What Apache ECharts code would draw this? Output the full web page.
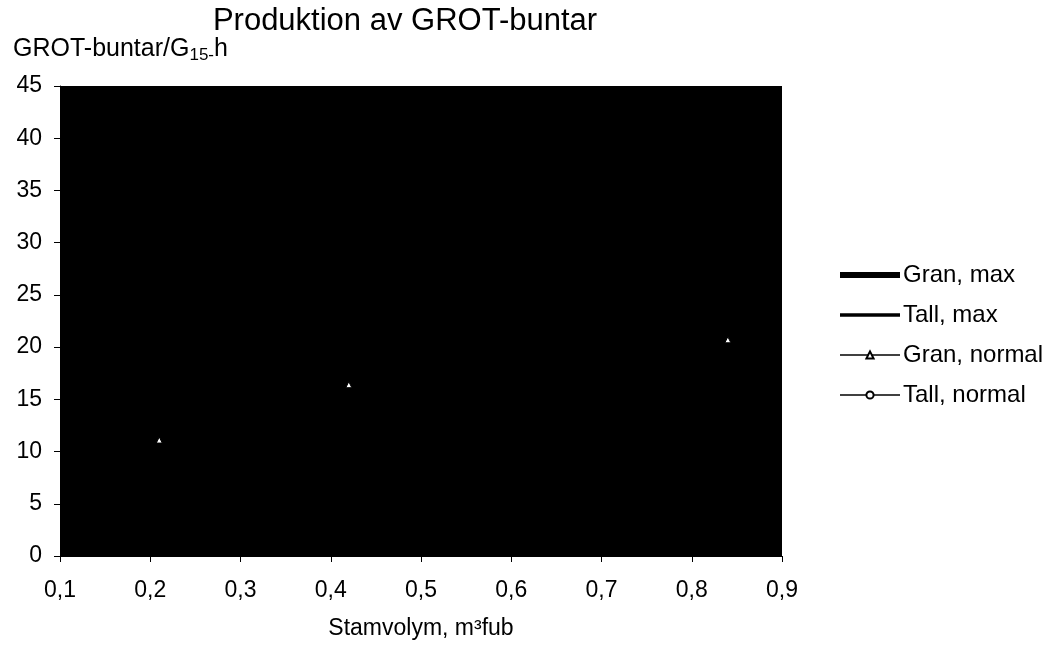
<!DOCTYPE html>
<html>
<head>
<meta charset="utf-8">
<script src="https://cdn.jsdelivr.net/npm/echarts@6/dist/echarts.min.js"></script>
<style>html,body{margin:0;padding:0;background:#fff}#c{width:1048px;height:646px}</style>
</head>
<body>
<div id="c"></div>
<script>
const seriesNames = ['Gran, max', 'Tall, max', 'Gran, normal', 'Tall, normal'];
const granMax = [];
const tallMax = [];
const granNormal = [[0.21, 11.1], [0.42, 16.4], [0.84, 20.7]];
const tallNormal = [];
const xTicks = [0.1, 0.2, 0.3, 0.4, 0.5, 0.6, 0.7, 0.8, 0.9];
const xTickLabels = ['0,1', '0,2', '0,3', '0,4', '0,5', '0,6', '0,7', '0,8', '0,9'];
const yTickLabels = ['0', '5', '10', '15', '20', '25', '30', '35', '40', '45'];

const F = 'Liberation Sans, Arial, sans-serif';
const chart = echarts.init(document.getElementById('c'));
chart.setOption({
  animation: false,
  backgroundColor: '#fff',
  title: {
    text: 'Produktion av GROT-buntar',
    left: 405, top: 6, textAlign: 'center', padding: 0,
    textStyle: {fontFamily: F, fontSize: 31, fontWeight: 'normal', color: '#000'}
  },
  grid: {left: 60, right: 266, top: 86, bottom: 90, show: true, backgroundColor: '#000', borderWidth: 0,
    containLabel: false, outerBoundsMode: 'none'},
  legend: {
    orient: 'vertical', left: 837, top: 263, padding: 0, itemGap: 16, itemWidth: 60, itemHeight: 9,
    lineStyle: {width: 'inherit'},
    data: [
      {name: seriesNames[0], itemStyle: {opacity: 0}},
      {name: seriesNames[1], itemStyle: {opacity: 0}},
      {name: seriesNames[2]},
      {name: seriesNames[3]}
    ],
    textStyle: {fontFamily: F, fontSize: 24, color: '#000', padding: [0, 0, 0, -2]}
  },
  xAxis: {
    type: 'value', min: 0.1, max: 0.9, interval: 0.1,
    name: 'Stamvolym, m³fub', nameLocation: 'middle', nameGap: 61,
    nameTextStyle: {fontFamily: F, fontSize: 23, color: '#000'},
    axisLine: {show: true, lineStyle: {color: '#000', width: 1}},
    axisTick: {show: true, length: 6, lineStyle: {color: '#000'}},
    axisLabel: {fontFamily: F, fontSize: 23, color: '#000', margin: 23,
      formatter: v => { const i = xTicks.findIndex(t => Math.abs(t - v) < 1e-6); return i >= 0 ? xTickLabels[i] : ''; }},
    splitLine: {show: false}
  },
  yAxis: {
    type: 'value', min: 0, max: 45, interval: 5,
    name: 'GROT-buntar/G{sub|15-}h', nameLocation: 'end', nameGap: 22,
    nameTextStyle: {fontFamily: F, fontSize: 25, color: '#000', align: 'left', padding: [0, 0, 0, -47],
      rich: {sub: {fontFamily: F, fontSize: 17, color: '#000', verticalAlign: 'bottom', padding: [13, 0, 0, 0]}}},
    axisLine: {show: true, lineStyle: {color: '#000', width: 1}},
    axisTick: {show: true, length: 6, lineStyle: {color: '#000'}},
    axisLabel: {fontFamily: F, fontSize: 23, color: '#000', margin: 18,
      formatter: v => yTickLabels[Math.round(v / 5)]},
    splitLine: {show: false}
  },
  series: [
    {name: seriesNames[0], type: 'line', data: granMax, symbol: 'none', lineStyle: {color: '#000', width: 6}, itemStyle: {color: '#000'}},
    {name: seriesNames[1], type: 'line', data: tallMax, symbol: 'none', lineStyle: {color: '#000', width: 3.5}, itemStyle: {color: '#000'}},
    {name: seriesNames[2], type: 'line', data: granNormal, symbol: 'triangle', symbolSize: 6, showAllSymbol: true,
      lineStyle: {color: '#000', width: 1.5}, itemStyle: {color: '#fff', borderColor: '#000', borderWidth: 1}},
    {name: seriesNames[3], type: 'line', data: tallNormal, symbol: 'circle', symbolSize: 6,
      lineStyle: {color: '#000', width: 1.5}, itemStyle: {color: '#fff', borderColor: '#000', borderWidth: 1}}
  ]
});
</script>
</body>
</html>
